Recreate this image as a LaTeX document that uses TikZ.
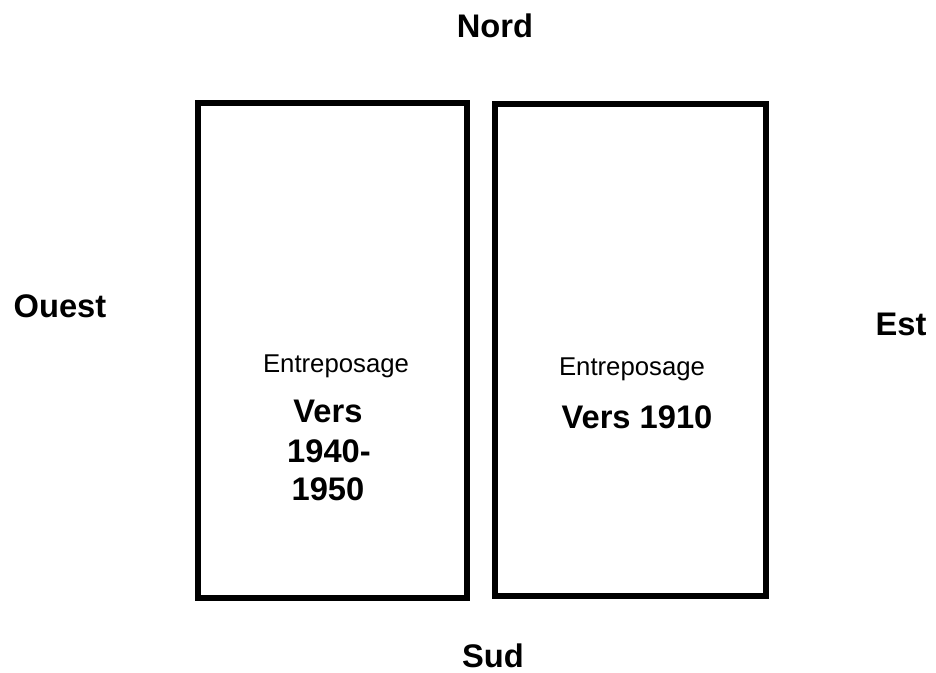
\documentclass[tikz,border=0pt]{standalone}
\usepackage{fontspec}
\setmainfont{Liberation Sans}
\begin{document}
\begin{tikzpicture}[x=0.75pt,y=-0.75pt,
  room/.style={draw=black,line width=4.5pt},
  dirlabel/.style={font=\fontsize{24.5}{29}\selectfont\bfseries,inner sep=0pt},
  uselabel/.style={font=\fontsize{19.3}{23}\selectfont,inner sep=0pt,anchor=base},
  datelabel/.style={font=\fontsize{24.5}{29}\selectfont\bfseries,inner sep=0pt,anchor=base,align=center}]
\useasboundingbox (0,0) rectangle (936,672);
\draw[room] (198,103) rectangle (467,598);
\draw[room] (495,104) rectangle (766,596);
\node[dirlabel,anchor=base] (nord) at (495,37) {Nord};
\node[dirlabel,anchor=base] (ouest) at (60,317) {Ouest};
\node[dirlabel,anchor=base] (est) at (901,335) {Est};
\node[dirlabel,anchor=base] (sud) at (493,667) {Sud};
\node[uselabel] (e1) at (336,372) {Entreposage};
\node[uselabel] (e2) at (632,375) {Entreposage};
\node[datelabel] (d1a) at (328,422) {Vers};
\node[datelabel] (d1b) at (329,462) {1940-};
\node[datelabel] (d1c) at (328,500) {1950};
\node[datelabel] (d2) at (637,428) {Vers 1910};
\end{tikzpicture}
\end{document}
